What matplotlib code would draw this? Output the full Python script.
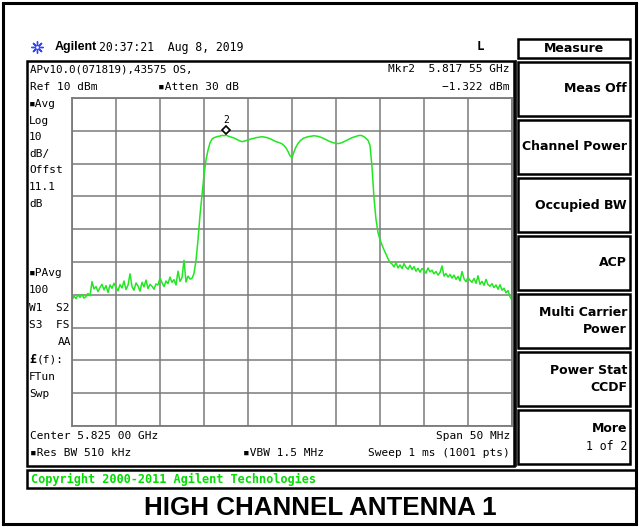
import numpy as np
import matplotlib
matplotlib.use("Agg")
import matplotlib.pyplot as plt
from matplotlib.patches import Rectangle
from matplotlib.transforms import offset_copy

# ---------------- data ----------------
center_mhz = 5825.0
span_mhz = 50.0
ref_level = 10.0
db_per_div = 10.0
mkr_freq = 5817.55
mkr_level = -1.322

trace_dbm = [
    -51.6, -50.4, -51.2, -50.0, -50.8, -49.9, -51.0, -50.5, -49.6, -50.3,
    -46.0, -48.2, -47.5, -49.0, -47.8, -46.8, -48.5, -47.2, -49.3, -47.0,
    -48.0, -46.5, -47.7, -48.8, -46.9, -47.9, -45.8, -48.4, -47.1, -43.6,
    -47.5, -48.6, -46.4, -47.3, -48.9, -46.2, -47.6, -45.5, -48.1, -46.8,
    -47.4, -48.3, -46.7, -47.0, -44.9, -46.3, -47.5, -45.8, -46.6, -44.6,
    -46.2, -45.4, -47.0, -42.8, -45.9, -44.8, -39.5, -46.1, -44.3, -45.2,
    -45.0, -43.5, -39.5,
    -33.3, -25.7, -19.6, -13.5, -8.9, -5.9, -3.7,
    -2.5, -2.1, -1.9, -1.7, -1.6, -1.4, -1.5, -1.322, -1.6, -1.8,
    -2.0, -2.2, -2.5, -2.8, -3.1, -3.3, -3.2, -3.0, -2.8, -2.6,
    -2.4, -2.3, -2.1, -2.0, -1.9, -1.8, -1.9, -2.0, -2.2, -2.4,
    -2.7, -3.0, -3.3, -3.5, -3.7, -4.0, -4.5, -5.2, -6.3, -7.6,
    -8.2, -6.4, -4.9, -3.9, -3.1, -2.6, -2.2, -2.0, -1.8, -1.7,
    -1.6, -1.5, -1.6, -1.7, -1.9, -2.1, -2.4, -2.7, -3.0, -3.3,
    -3.5, -3.7, -3.8, -3.9, -3.8, -3.6, -3.3, -3.0, -2.7, -2.4,
    -2.1, -1.9, -1.7, -1.5, -1.4, -1.5, -1.8, -2.3, -2.9, -4.5,
    -11.0, -20.5, -27.0, -31.0, -33.2, -34.8, -36.3, -37.6, -39.0, -40.1,
    -40.6, -41.5, -40.2, -41.8, -40.9, -42.0, -40.5, -41.6, -42.2, -41.0,
    -42.3, -41.4, -42.8, -41.9, -43.1, -42.0, -42.6, -43.4, -41.8, -43.0,
    -42.5, -43.6, -42.9, -44.0, -43.2, -41.2, -44.3, -43.5, -44.6, -43.8,
    -44.9, -44.0, -45.3, -44.4, -45.8, -42.9, -45.1, -46.0, -44.7, -45.6,
    -46.2, -45.0, -46.5, -44.2, -46.8, -45.9, -47.1, -45.3, -46.9, -47.4,
    -46.6, -47.8, -47.0, -48.3, -46.9, -48.6, -48.0, -49.4, -48.7, -50.6, -51.6,
]

left_labels_top = ["▪Avg", "Log", "10", "dB/", "Offst", "11.1", "dB"]
left_labels_bot = ["▪PAvg", "100", "W1  S2", "S3  FS", "AA", "£(f):", "FTun", "Swp"]
softkeys = ["Meas Off", "Channel Power", "Occupied BW", "ACP",
            "Multi Carrier\nPower", "Power Stat\nCCDF", "More\n1 of 2"]

# ---------------- figure ----------------
W, H = 639, 527
fig = plt.figure(figsize=(W / 100, H / 100), dpi=100)
fig.patch.set_facecolor("white")
ax0 = fig.add_axes([0, 0, 1, 1])
ax0.set_xlim(0, W)
ax0.set_ylim(H, 0)
ax0.axis("off")

MONO = "DejaVu Sans Mono"


def rect(x0, y0, x1, y1, lw=1.5, color="black"):
    ax0.add_patch(Rectangle((x0, y0), x1 - x0, y1 - y0, fill=False,
                            lw=lw, edgecolor=color))


def txt(x, y, s, ha="left", size=8, **kw):
    kw.setdefault("family", [MONO, "DejaVu Sans"])
    ax0.text(x, y, s, ha=ha, va="center", fontsize=size, **kw)


# outer border
rect(3, 3, 636, 524, lw=2.2)

# header
ax0.scatter([37], [47], marker=(8, 2, 0), s=70, color="#3344ff", lw=1.0)
ax0.scatter([37], [47], marker="o", s=8, facecolor="white", edgecolor="#3344ff", lw=0.8)
ax0.text(55, 47, "Agilent", fontsize=9, fontweight="bold", family="Liberation Sans",
         va="center")
txt(99, 47, "20:37:21  Aug 8, 2019", size=8.3)
txt(480, 47, "L", size=9, ha="center", fontweight="bold")

# main screen box
rect(27, 61, 514, 466, lw=1.8)
ax0.plot([515.5, 515.5], [61, 466], color="black", lw=1.2)

txt(30, 69, "APv10.0(071819),43575 OS,", size=7.8)
txt(510, 69, "Mkr2  5.817 55 GHz", ha="right")
txt(30, 87, "Ref 10 dBm")
txt(158, 87, "▪Atten 30 dB")
txt(510, 87, "\u22121.322 dBm", ha="right")

for k, s in enumerate(left_labels_top):
    txt(29, 104 + 16.6 * k, s)
for k, s in enumerate(left_labels_bot):
    if s == "AA":
        txt(71, 273 + 17.3 * k, s, ha="right")
    elif s.startswith("£"):
        ax0.text(29, 273 + 17.3 * k, "£", fontsize=8.5, fontweight="bold",
                 family=MONO, va="center")
        txt(37, 273 + 17.3 * k, "(f):")
    else:
        txt(29, 273 + 17.3 * k, s)

txt(30, 436, "Center 5.825 00 GHz")
txt(510, 436, "Span 50 MHz", ha="right")
txt(30, 453, "▪Res BW 510 kHz")
txt(243, 453, "▪VBW 1.5 MHz")
txt(510, 453, "Sweep 1 ms (1001 pts)", ha="right")

# copyright box
rect(27, 470, 636, 488, lw=1.8)
ax0.text(31, 479.5, "Copyright 2000-2011 Agilent Technologies", fontsize=8.6,
         fontweight="bold", family=MONO, color="#00dd00", va="center")

# title
ax0.text(320, 508, "HIGH CHANNEL ANTENNA 1", fontsize=18.7, fontweight="bold",
         family="Liberation Sans", ha="center", va="center")

# softkey panel
rect(518, 39, 630, 58, lw=1.8)
ax0.text(574, 48.5, "Measure", fontsize=9, fontweight="bold", family="DejaVu Sans",
         ha="center", va="center")
tops = [62, 120, 178, 236, 294, 352, 410]
for t, label in zip(tops, softkeys):
    rect(518, t, 630, t + 54, lw=1.8)
    lines = label.split("\n")
    if label.startswith("More"):
        ax0.text(627, t + 19, lines[0], fontsize=9, fontweight="bold",
                 family="DejaVu Sans", ha="right", va="center")
        txt(627, t + 36, lines[1], ha="right", size=8.3)
    elif len(lines) == 2:
        ax0.text(627, t + 27, label, fontsize=9, fontweight="bold",
                 family="DejaVu Sans", ha="right", va="center", linespacing=1.35)
    else:
        ax0.text(627, t + 27, label, fontsize=9, fontweight="bold",
                 family="DejaVu Sans", ha="right", va="center")

# ---------------- trace axes ----------------
ax = fig.add_axes([72 / W, 1 - 426 / H, 440 / W, 328 / H])
f0 = center_mhz - span_mhz / 2
f1 = center_mhz + span_mhz / 2
ax.set_xlim(f0, f1)
ax.set_ylim(ref_level - 10 * db_per_div, ref_level)
ax.set_xticks(np.linspace(f0, f1, 11))
ax.set_yticks(np.linspace(ref_level - 10 * db_per_div, ref_level, 11))
ax.grid(True, color="#7a7a7a", lw=1.1)
ax.tick_params(length=0, labelbottom=False, labelleft=False)
for sp in ax.spines.values():
    sp.set_color("#7a7a7a")
    sp.set_linewidth(1.3)
ax.set_facecolor("white")

freqs = np.linspace(f0, f1, len(trace_dbm))
ax.plot(freqs, trace_dbm, color="#22e622", lw=1.1)

tr = offset_copy(ax.transData, fig=fig, y=3.5, units="points")
ax.plot([mkr_freq], [mkr_level], marker="D", ms=4.5, mfc="white", mec="black",
        mew=1.2, transform=tr)
ax.annotate("2", (mkr_freq, mkr_level), xytext=(0, 11), textcoords="offset points",
            ha="center", va="center", fontsize=7, family=MONO)

fig.savefig("out.png", dpi=100, facecolor="white")
